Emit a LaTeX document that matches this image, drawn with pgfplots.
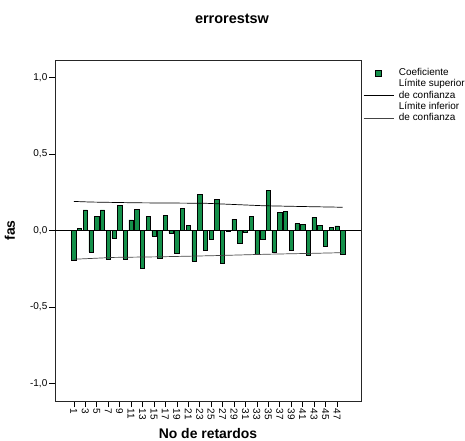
\documentclass[border=0pt]{standalone}
\usepackage{fontspec}
\setmainfont{Liberation Sans}
\usepackage{pgfplots}
\pgfplotsset{compat=1.18}
\definecolor{barg}{HTML}{14904A}
\definecolor{lowc}{HTML}{444444}
\begin{document}
\begin{tikzpicture}[x=1bp,y=1bp]
\useasboundingbox (0,0) rectangle (465,441);
\begin{axis}[
  at={(55bp,40bp)}, anchor=south west,
  width=306bp, height=341bp, scale only axis,
  xmin=-2.3, xmax=51.2, ymin=-1.115, ymax=1.115,
  axis line style={line width=0.8bp, black!85},
  xtick={1,3,...,47},
  ytick={-1,-0.5,0,0.5,1},
  yticklabels={{-1,0},{-0,5},{0,0},{0,5},{1,0}},
  tick align=outside, major tick length=6bp,
  xtick pos=bottom, ytick pos=left,
  tick style={black, line width=0.6bp},
  ticklabel style={font=\fontsize{10}{10}\selectfont},
  xticklabel style={rotate=-90, anchor=west, inner sep=1.5bp},
  yticklabel style={inner sep=1.5bp},
  /pgf/number format/assume math mode=true,
  xlabel={No de retardos}, ylabel={fas},
  label style={font=\bfseries\fontsize{14}{14}\selectfont},
  xlabel style={at={(axis description cs:0.5,0)}, anchor=center, yshift=-33bp},
  ylabel style={at={(axis description cs:0,0.5)}, anchor=center, yshift=45bp},
  legend style={draw=none, fill=none, at={(axis description cs:1,1)}, anchor=north west,
    xshift=2bp, yshift=-8bp, inner sep=0pt, column sep=5bp, row sep=1.8bp,
    font=\fontsize{10}{10}\selectfont,
    nodes={inner sep=0pt, text height=7.5bp, text depth=2bp}},
  legend cell align=left,
]
\addlegendimage{legend image code/.code={\draw[fill=barg,draw=black,line width=0.5bp] (12bp,-3bp) rectangle (18bp,3bp); \path (0bp,0bp) (30bp,0bp);}}
\addlegendentry{Coeficiente}
\addlegendimage{empty legend}
\addlegendentry{Límite superior}
\addlegendimage{legend image code/.code={\draw[black,line width=0.7bp] (0bp,0bp) -- (30bp,0bp);}}
\addlegendentry{de confianza}
\addlegendimage{empty legend}
\addlegendentry{Límite inferior}
\addlegendimage{legend image code/.code={\draw[lowc,line width=0.7bp] (0bp,0bp) -- (30bp,0bp);}}
\addlegendentry{de confianza}

\addplot[black, line width=0.7bp, forget plot] coordinates {(-2.3,0) (51.2,0)};
\addplot[ybar, bar width=0.75, fill=barg, draw=black, line width=0.5bp, forget plot] coordinates {
(1,-0.195) (2,0.015) (3,0.135) (4,-0.14) (5,0.09) (6,0.135) (7,-0.19) (8,-0.05)
(9,0.165) (10,-0.19) (11,0.07) (12,0.14) (13,-0.245) (14,0.09) (15,-0.035) (16,-0.18)
(17,0.10) (18,-0.015) (19,-0.15) (20,0.145) (21,0.035) (22,-0.20) (23,0.235) (24,-0.13)
(25,-0.055) (26,0.205) (27,-0.215) (28,-0.005) (29,0.075) (30,-0.085) (31,-0.01) (32,0.09)
(33,-0.155) (34,-0.055) (35,0.26) (36,-0.145) (37,0.12) (38,0.125) (39,-0.13) (40,0.045)
(41,0.04) (42,-0.165) (43,0.085) (44,0.035) (45,-0.105) (46,0.02) (47,0.03) (48,-0.155)
};
\addplot[black, line width=0.7bp, forget plot] coordinates {
(1,0.19) (4,0.186) (12,0.181) (24,0.178) (34,0.162) (42,0.156) (48,0.152)};
\addplot[lowc, line width=0.7bp, forget plot] coordinates {
(1,-0.188) (8,-0.176) (16,-0.172) (25,-0.165) (35,-0.155) (42,-0.15) (48,-0.145)};
\end{axis}
\node[font=\bfseries\fontsize{14.5}{14.5}\selectfont] at (232,422) {errorestsw};
\end{tikzpicture}
\end{document}
